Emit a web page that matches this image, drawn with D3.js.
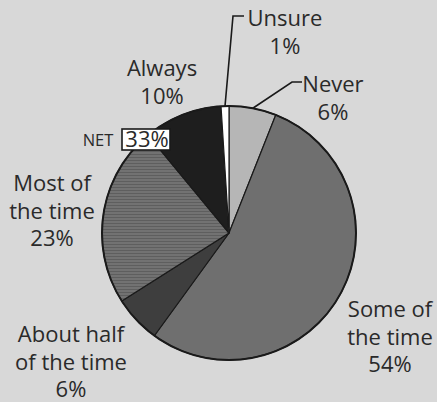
<!DOCTYPE html>
<html>
<head>
<meta charset="utf-8">
<script src="https://cdn.jsdelivr.net/npm/d3@7"></script>
<style>
  html, body { margin: 0; padding: 0; background: #d8d8d8; }
  svg { display: block; }
  text { font-family: "Open Sans", sans-serif; fill: #2a2a2a; }
</style>
</head>
<body>
<svg id="chart" width="437" height="402"></svg>
<script>
// ---- data ----
const categories = ["Never", "Some of the time", "About half of the time", "Most of the time", "Always", "Unsure"];
const values = [6, 54, 6, 23, 10, 1];
const labelLines = [
  ["Never", "6%"],
  ["Some of", "the time", "54%"],
  ["About half", "of the time", "6%"],
  ["Most of", "the time", "23%"],
  ["Always", "10%"],
  ["Unsure", "1%"]
];
const netLabel = "NET";
const netValue = "33%";

// ---- styles / layout ----
const palette = ["#b6b6b6", "#6f6f6f", "#3e3e3e", "#727272", "#1e1e1e", "#ffffff"];
const W = 437, H = 402;
const cx = 229, cy = 233, R = 127;
const fontSize = 22, lineH = 27.7;
// label anchor (center x, first baseline y)
const labelPos = {
  "Never": [333, 92],
  "Some of the time": [390, 317],
  "About half of the time": [71, 342],
  "Most of the time": [52, 191],
  "Always": [162, 76],
  "Unsure": [285, 26]
};
// leader lines: [elbow, end] for labels that use them
const leaders = {
  "Unsure": [[233, 16], [244, 16]],
  "Never": [[292, 82], [302, 82]]
};

const svg = d3.select("#chart");
svg.append("rect").attr("width", W).attr("height", H).attr("fill", "#d8d8d8");

const defs = svg.append("defs");
const pat = defs.append("pattern")
  .attr("id", "hlines").attr("patternUnits", "userSpaceOnUse")
  .attr("width", 6).attr("height", 3);
pat.append("rect").attr("width", 6).attr("height", 3).attr("fill", palette[3]);
pat.append("rect").attr("y", 2).attr("width", 6).attr("height", 1).attr("fill", "#5e5e5e");

const pie = d3.pie().sort(null).value(d => d).startAngle(0).endAngle(2 * Math.PI);
const arcs = pie(values);
const arc = d3.arc().innerRadius(0).outerRadius(R);

const g = svg.append("g").attr("transform", `translate(${cx},${cy})`);
g.selectAll("path.slice")
  .data(arcs)
  .join("path")
  .attr("class", "slice")
  .attr("d", arc)
  .attr("fill", (d, i) => i === 3 ? "url(#hlines)" : palette[i])
  .attr("stroke", "#1a1a1a")
  .attr("stroke-width", 1.2)
  .attr("stroke-linejoin", "round");

g.append("circle").attr("r", R).attr("fill", "none")
  .attr("stroke", "#1a1a1a").attr("stroke-width", 2);

// leader lines
arcs.forEach((a, i) => {
  const name = categories[i];
  if (!leaders[name]) return;
  const mid = (a.startAngle + a.endAngle) / 2;
  const p0 = [cx + R * Math.sin(mid), cy - R * Math.cos(mid)];
  const pts = [p0].concat(leaders[name]);
  svg.append("path")
    .attr("d", d3.line()(pts))
    .attr("fill", "none")
    .attr("stroke", "#1a1a1a")
    .attr("stroke-width", 1.6);
});

// labels
categories.forEach((name, i) => {
  const [x, y] = labelPos[name];
  const t = svg.append("text")
    .attr("text-anchor", "middle")
    .attr("font-size", fontSize);
  labelLines[i].forEach((ln, j) => {
    t.append("tspan").attr("x", x).attr("y", y + j * lineH).text(ln);
  });
});

// NET box
svg.append("rect")
  .attr("x", 122).attr("y", 129).attr("width", 48).attr("height", 21)
  .attr("fill", "#ffffff").attr("stroke", "#1a1a1a").attr("stroke-width", 1.6);
svg.append("text").attr("x", 147).attr("y", 147)
  .attr("text-anchor", "middle").attr("font-size", fontSize).text(netValue);
svg.append("text").attr("x", 98).attr("y", 146)
  .attr("text-anchor", "middle").attr("font-size", 16.5).text(netLabel);
</script>
</body>
</html>
